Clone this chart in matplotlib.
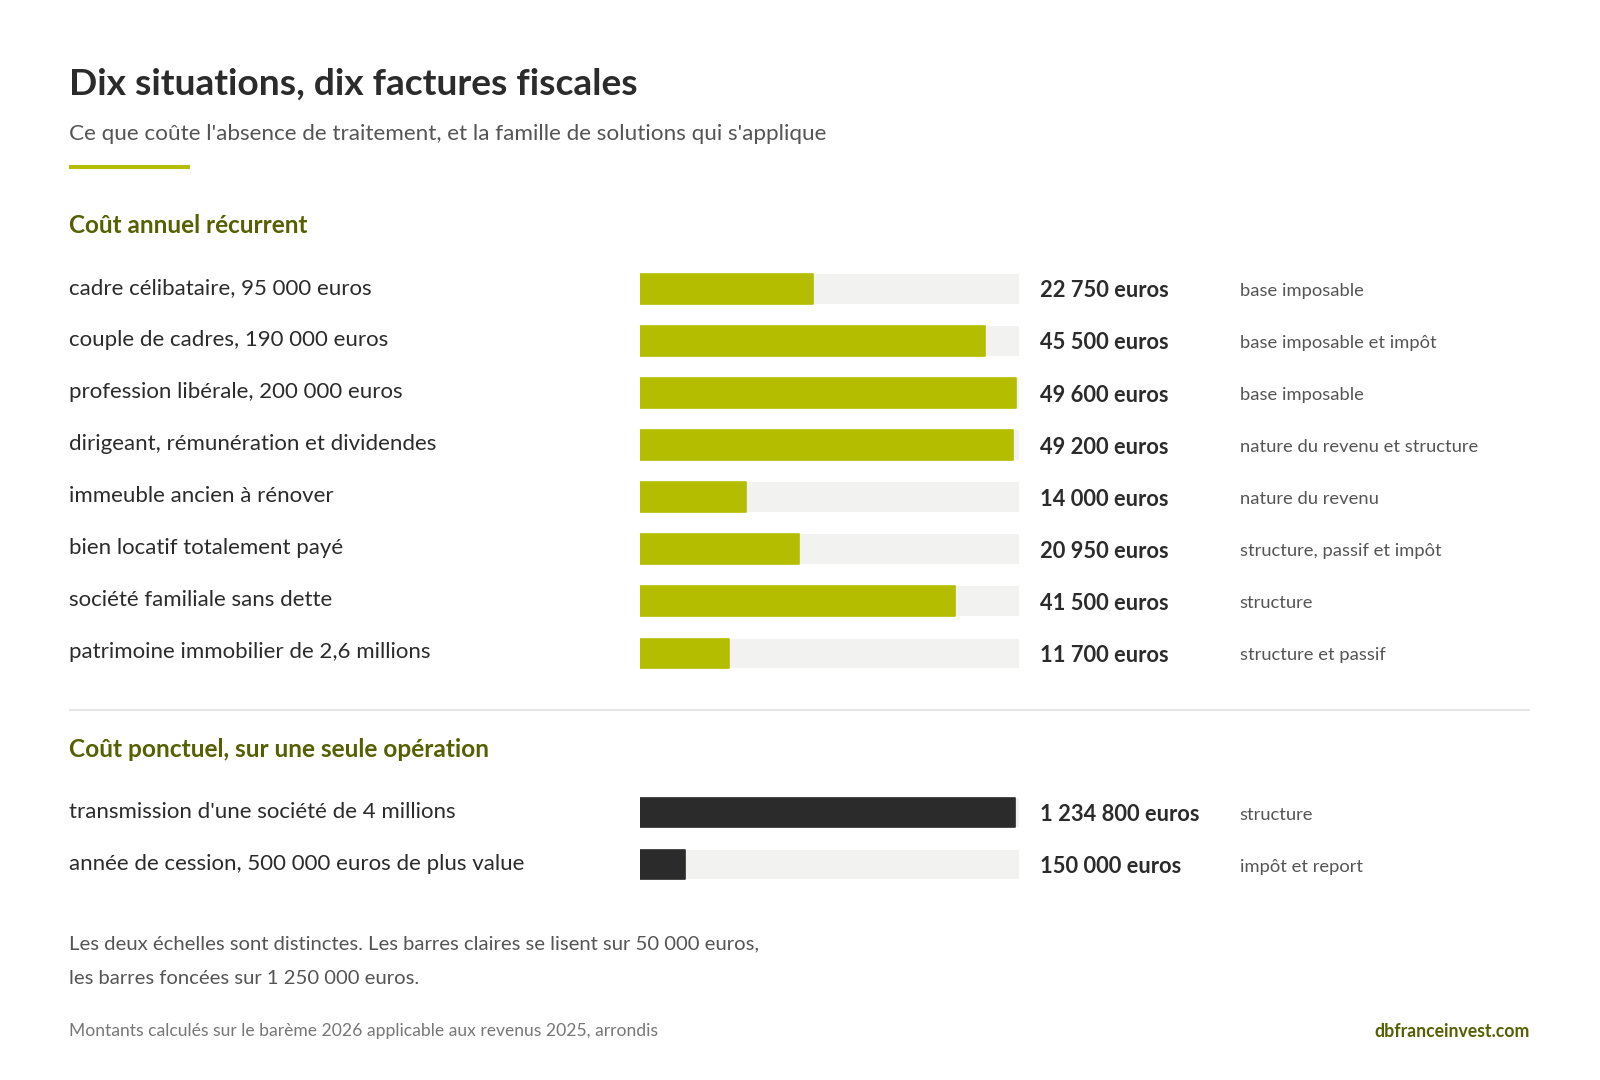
import matplotlib
matplotlib.use("Agg")
import matplotlib.pyplot as plt

plt.rcParams['font.family'] = ['Lato', 'DejaVu Sans']

# ---------------- data ----------------
title = "Dix situations, dix factures fiscales"
subtitle = "Ce que coûte l'absence de traitement, et la famille de solutions qui s'applique"

section1_title = "Coût annuel récurrent"
labels1 = [
    "cadre célibataire, 95 000 euros",
    "couple de cadres, 190 000 euros",
    "profession libérale, 200 000 euros",
    "dirigeant, rémunération et dividendes",
    "immeuble ancien à rénover",
    "bien locatif totalement payé",
    "société familiale sans dette",
    "patrimoine immobilier de 2,6 millions",
]
values1 = [22750, 45500, 49600, 49200, 14000, 20950, 41500, 11700]
tags1 = [
    "base imposable",
    "base imposable et impôt",
    "base imposable",
    "nature du revenu et structure",
    "nature du revenu",
    "structure, passif et impôt",
    "structure",
    "structure et passif",
]
scale1 = 50000

section2_title = "Coût ponctuel, sur une seule opération"
labels2 = [
    "transmission d'une société de 4 millions",
    "année de cession, 500 000 euros de plus value",
]
values2 = [1234800, 150000]
tags2 = ["structure", "impôt et report"]
scale2 = 1250000

note_lines = [
    "Les deux échelles sont distinctes. Les barres claires se lisent sur 50 000 euros,",
    "les barres foncées sur 1 250 000 euros.",
]
source = "Montants calculés sur le barème 2026 applicable aux revenus 2025, arrondis"
brand = "dbfranceinvest.com"

# ---------------- style ----------------
GREEN = "#b5bd00"
OLIVE = "#566000"
DARK = "#2b2b2b"
GREY = "#555555"
LIGHT = "#777777"
TRACK = "#f2f2f0"
SEP = "#e6e6e6"

W, H = 1568.0, 1058.0          # layout units
K = 1600.0 / W                 # layout unit -> output pixel
def pt(px):                    # layout pixel font size -> points
    return px * K * 0.72

def fmt(v):
    return f"{v:,}".replace(",", " ") + " euros"

fig = plt.figure(figsize=(16, 10.8), dpi=100)
fig.patch.set_facecolor("white")
ax = fig.add_axes([0, 0, 1, 1])
ax.set_xlim(0, W)
ax.set_ylim(H, 0)
ax.axis("off")

LX = 68
ax.text(LX, 83, title, fontsize=pt(36.4), fontweight="bold", color=DARK, va="center", ha="left")
ax.text(LX, 131, subtitle, fontsize=pt(22.0), color=GREY, va="center", ha="left")
ax.plot([LX, 186], [164, 164], color=GREEN, lw=4 * 0.72 * K, solid_capstyle="butt")

ax.text(LX, 221, section1_title, fontsize=pt(23.8), fontweight="bold", color=OLIVE, va="center", ha="left")
ax.plot([LX, 1499], [696, 696], color=SEP, lw=2 * 0.72 * K, solid_capstyle="butt")
ax.text(LX, 734, section2_title, fontsize=pt(23.9), fontweight="bold", color=OLIVE, va="center", ha="left")

BAR_X0, BAR_W = 627, 372
ROW = 51
BAR_H = 29

def section(labels, values, tags, scale, y0, color):
    n = len(labels)
    top = y0 - ROW / 2
    bottom = y0 + (n - 1) * ROW + ROW / 2
    bax = fig.add_axes([BAR_X0 / W, 1 - bottom / H, BAR_W / W, (bottom - top) / H])
    bax.set_xlim(0, scale)
    bax.set_ylim(n - 0.5, -0.5)
    bax.axis("off")
    ys = list(range(n))
    bax.barh(ys, [scale] * n, height=BAR_H / ROW, color=TRACK, left=0)
    bars = bax.barh(ys, values, height=BAR_H / ROW, color=color, left=0)
    for b in bars:
        b.set_edgecolor(color)
        b.set_linewidth(1.2)
        b.set_joinstyle("round")
    for i, (lab, v, tg) in enumerate(zip(labels, values, tags)):
        yc = y0 + i * ROW
        ax.text(LX, yc - 1, lab, fontsize=pt(21.8), color=DARK, va="center", ha="left")
        ax.text(1019, yc + 2, fmt(v), fontsize=pt(21.4), fontweight="bold", color=DARK, va="center", ha="left")
        ax.text(1215, yc + 2, tg, fontsize=pt(18), color=GREY, va="center", ha="left")

section(labels1, values1, tags1, scale1, 283, GREEN)
section(labels2, values2, tags2, scale2, 796, DARK)

ax.text(LX, 925, note_lines[0], fontsize=pt(19.85), color=GREY, va="center", ha="left")
ax.text(LX, 959, note_lines[1], fontsize=pt(19.85), color=GREY, va="center", ha="left")

ax.text(LX, 1010, source, fontsize=pt(17.1), color=LIGHT, va="center", ha="left")
ax.text(1499, 1010, brand, fontsize=pt(17.3), fontweight="bold", color=OLIVE, va="center", ha="right")

fig.savefig("out.png", dpi=100, facecolor="white")
